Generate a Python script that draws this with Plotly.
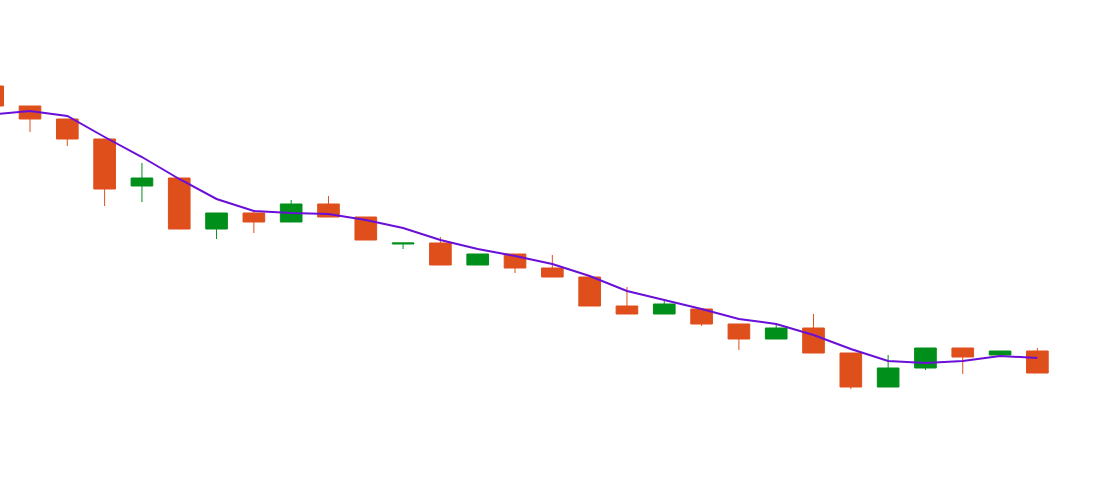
import plotly.graph_objects as go

# Session index (x) and OHLC values
sessions = list(range(29))
open_ = [98.5, 93.5, 90.25, 85.25, 73.5, 75.5, 62.75, 66.75, 64.5, 69.0,
         65.75, 59.0, 59.25, 53.75, 56.5, 53.0, 50.75, 43.5, 41.5, 42.75,
         39.0, 35.25, 38.0, 31.75, 23.25, 28.0, 33.0, 31.25, 32.25]
high = [98.5, 93.5, 90.25, 85.25, 79.25, 75.5, 66.75, 67.0, 70.0, 71.0,
        65.75, 59.25, 60.75, 56.5, 56.5, 56.25, 50.75, 48.25, 44.75, 42.75,
        39.0, 39.25, 41.5, 31.75, 31.25, 33.0, 33.0, 32.25, 33.0]
low = [93.5, 87.0, 83.5, 68.5, 69.5, 62.75, 60.25, 61.75, 64.5, 65.75,
       60.0, 57.75, 53.75, 53.75, 51.75, 50.75, 43.5, 41.5, 41.5, 38.5,
       32.5, 35.25, 31.75, 22.75, 23.25, 27.5, 26.5, 30.75, 26.75]
close = [93.5, 90.25, 85.25, 72.75, 75.5, 62.75, 66.75, 64.5, 69.0, 65.75,
         60.0, 59.25, 53.75, 56.5, 53.0, 50.75, 43.5, 41.5, 44.0, 39.0,
         35.25, 38.0, 31.75, 23.25, 28.0, 33.0, 30.75, 32.25, 26.75]
# Moving-average line
ma = [91.4, 92.25, 91.0, 85.75, 80.75, 75.25, 70.25, 67.25, 66.75, 66.5,
      65.0, 63.0, 60.0, 57.75, 56.0, 54.0, 51.0, 47.25, 45.0, 42.75,
      40.25, 39.0, 36.25, 32.75, 29.75, 29.25, 29.75, 31.0, 30.5]

UP = "#008F1A"
DOWN = "#DF4F1C"

fig = go.Figure()
fig.add_trace(go.Candlestick(
    x=sessions, open=open_, high=high, low=low, close=close,
    increasing=dict(line=dict(color=UP, width=1), fillcolor=UP),
    decreasing=dict(line=dict(color=DOWN, width=1), fillcolor=DOWN),
    showlegend=False, hoverinfo="skip",
))
fig.add_trace(go.Scatter(
    x=sessions, y=ma, mode="lines",
    line=dict(color="#6A0FD8", width=2),
    showlegend=False, hoverinfo="skip",
))

fig.update_layout(
    width=1112, height=480,
    margin=dict(l=0, r=0, t=0, b=0),
    paper_bgcolor="white", plot_bgcolor="white",
    boxgap=0.42, boxgroupgap=0,
    xaxis=dict(visible=False, range=[0.196, 30.0], rangeslider=dict(visible=False),
               fixedrange=True),
    yaxis=dict(visible=False, range=[0, 120], fixedrange=True),
)

fig.write_html("out.html", config={"displayModeBar": False},
               post_script="document.body.style.margin='0';")
